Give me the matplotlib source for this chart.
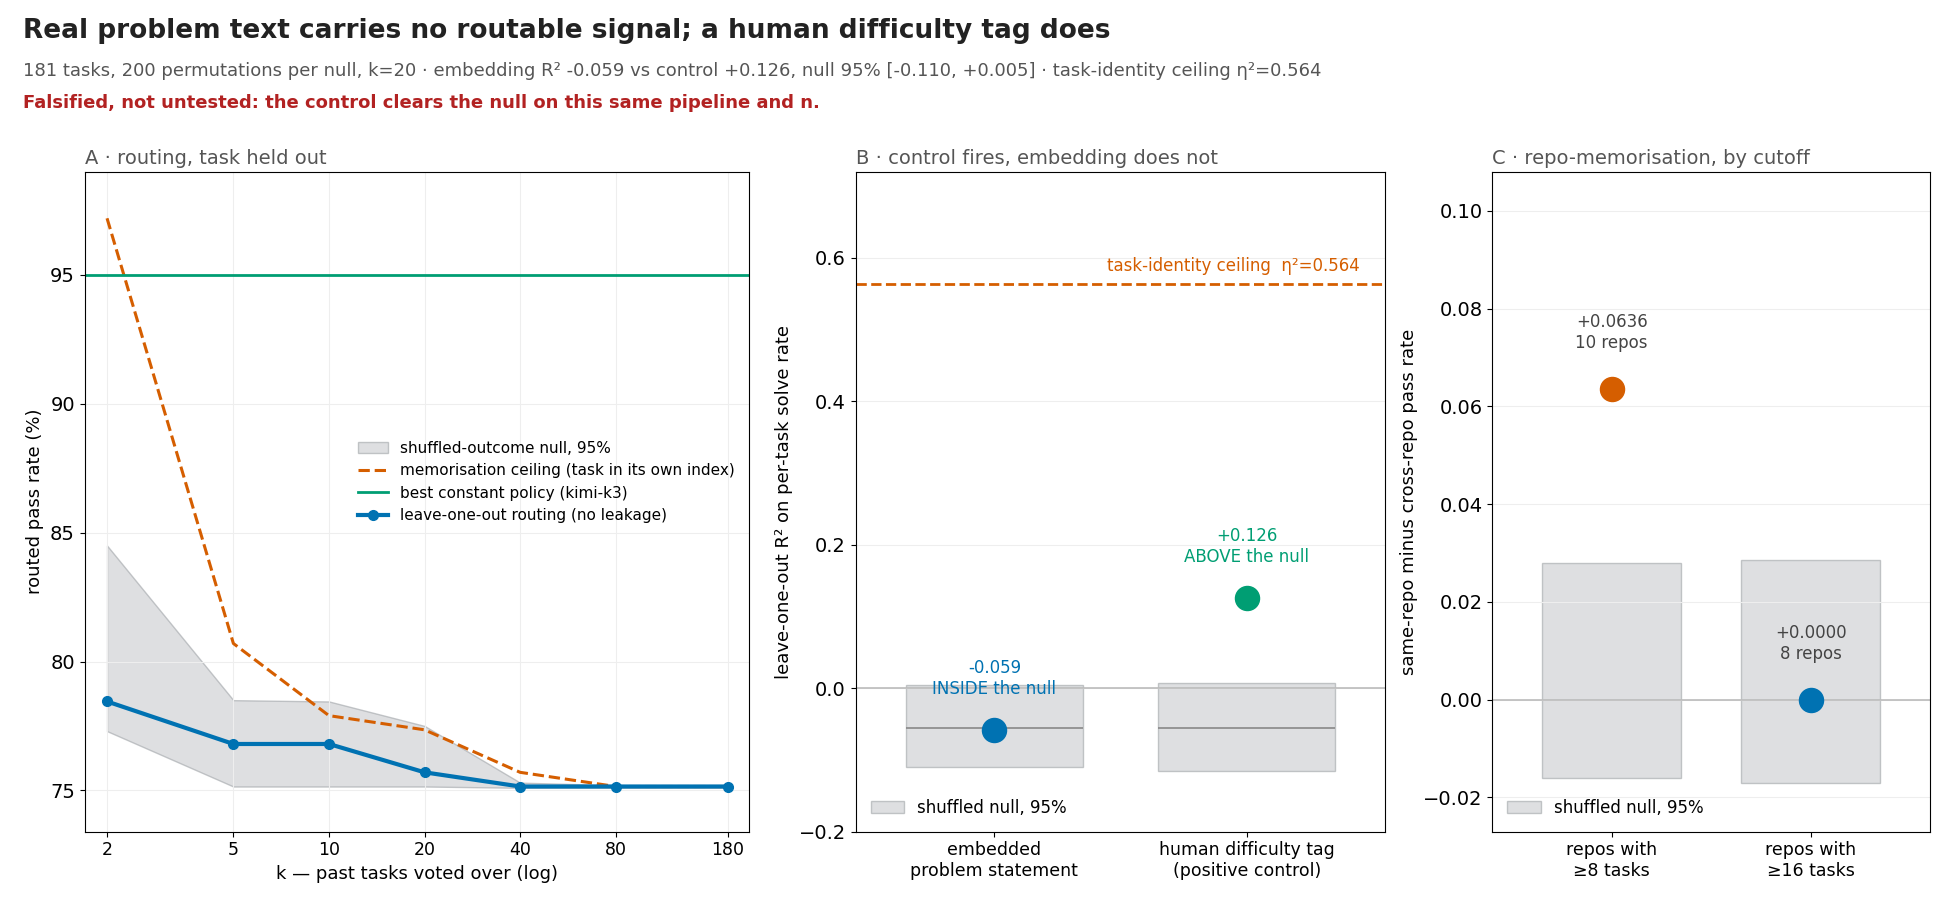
import matplotlib
matplotlib.use("Agg")
import matplotlib.pyplot as plt
import numpy as np

k_vals = [2, 5, 10, 20, 40, 80, 180]
loo = [78.45, 76.8, 76.8, 75.7, 75.15, 75.15, 75.15]
memo = [97.2, 80.7, 77.9, 77.35, 75.7, 75.15, 75.15]
null_hi = [84.5, 78.5, 78.45, 77.5, 75.3, 75.2, 75.2]
null_lo = [77.3, 75.15, 75.15, 75.15, 75.1, 75.1, 75.1]
const_best = 95.0

b_labels = ["embedded\nproblem statement", "human difficulty tag\n(positive control)"]
b_vals = [-0.059, 0.126]
b_null_lo = [-0.110, -0.115]
b_null_hi = [0.005, 0.007]
b_null_med = [-0.055, -0.055]
ceiling = 0.564

c_labels = ["repos with\n≥8 tasks", "repos with\n≥16 tasks"]
c_vals = [0.0636, 0.0]
c_repos = [10, 8]
c_null_lo = [-0.016, -0.017]
c_null_hi = [0.028, 0.0285]

BLUE = "#0072b2"; ORANGE = "#d55e00"; GREEN = "#009e73"; GREY = "#c9cbce"

fig = plt.figure(figsize=(19.5, 9), dpi=100)
fig.text(0.012, 0.965, "Real problem text carries no routable signal; a human difficulty tag does",
         fontsize=19, fontweight="bold", color="#222222", va="center")
fig.text(0.012, 0.921, "181 tasks, 200 permutations per null, k=20 · embedding R² -0.059 vs control +0.126, null 95% [-0.110, +0.005] · task-identity ceiling η²=0.564",
         fontsize=13, color="#555555", va="center")
fig.text(0.012, 0.886, "Falsified, not untested: the control clears the null on this same pipeline and n.",
         fontsize=13, color="#b22222", fontweight="bold", va="center")

TS = 14; LS = 13; TK = 14

# Panel A
ax = fig.add_axes([0.0434, 0.076, 0.3406, 0.733])
ax.fill_between(k_vals, null_lo, null_hi, color=GREY, alpha=0.6, edgecolor="#a0a4a8",
                label="shuffled-outcome null, 95%")
ax.plot(k_vals, memo, "--", color=ORANGE, lw=2.2, label="memorisation ceiling (task in its own index)")
ax.axhline(const_best, color=GREEN, lw=2, label="best constant policy (kimi-k3)")
ax.plot(k_vals, loo, "-o", color=BLUE, lw=3, ms=7, label="leave-one-out routing (no leakage)")
ax.set_xscale("log")
ax.set_xticks(k_vals)
ax.set_xticklabels([str(k) for k in k_vals])
ax.minorticks_off()
ax.set_xlim(1.7, 210)
ax.set_ylim(73.4, 99)
ax.set_yticks([75, 80, 85, 90, 95])
ax.grid(True, color="#eeeeee")
ax.set_xlabel("k — past tasks voted over (log)", fontsize=LS)
ax.set_ylabel("routed pass rate (%)", fontsize=LS)
ax.set_title("A · routing, task held out", loc="left", fontsize=TS, color="#555555")
ax.legend(loc="center right", bbox_to_anchor=(1.0, 0.53), fontsize=11, frameon=False)
ax.tick_params(axis="x", labelsize=12.5)

# Panel B
ax = fig.add_axes([0.4388, 0.076, 0.2717, 0.733])
x = np.arange(len(b_labels))
for i in x:
    ax.bar(i, b_null_hi[i] - b_null_lo[i], bottom=b_null_lo[i], width=0.7, color=GREY, alpha=0.6,
           edgecolor="#a0a4a8", label="shuffled null, 95%" if i == 0 else None)
    ax.hlines(b_null_med[i], i - 0.35, i + 0.35, color="#888888", lw=1.2)
ax.axhline(0, color="#bbbbbb", lw=1.2)
ax.axhline(ceiling, color=ORANGE, ls="--", lw=2)
ax.text(1.45, ceiling + 0.012, f"task-identity ceiling  η²={ceiling:.3f}", color=ORANGE,
        ha="right", va="bottom", fontsize=12)
cols = [BLUE, GREEN]
tags = ["INSIDE the null", "ABOVE the null"]
for i in x:
    ax.scatter(i, b_vals[i], s=300, color=cols[i], zorder=5)
    ax.text(i, b_vals[i] + 0.045, f"{b_vals[i]:+.3f}\n{tags[i]}", color=cols[i], ha="center",
            va="bottom", fontsize=12)
ax.set_xticks(x)
ax.set_xticklabels(b_labels, fontsize=12.5)
ax.set_xlim(-0.55, 1.55)
ax.set_ylim(-0.2, 0.72)
ax.set_yticks([-0.2, 0.0, 0.2, 0.4, 0.6])
ax.grid(True, axis="y", color="#eeeeee")
ax.set_ylabel("leave-one-out R² on per-task solve rate", fontsize=LS)
ax.set_title("B · control fires, embedding does not", loc="left", fontsize=TS, color="#555555")
ax.legend(loc="lower left", fontsize=12, frameon=False)

# Panel C
ax = fig.add_axes([0.7653, 0.076, 0.2245, 0.733])
x = np.arange(len(c_labels))
for i in x:
    ax.bar(i, c_null_hi[i] - c_null_lo[i], bottom=c_null_lo[i], width=0.7, color=GREY, alpha=0.6,
           edgecolor="#a0a4a8", label="shuffled null, 95%" if i == 0 else None)
ax.axhline(0, color="#bbbbbb", lw=1.2)
ccols = [ORANGE, BLUE]
for i in x:
    ax.scatter(i, c_vals[i], s=300, color=ccols[i], zorder=5)
    ax.text(i, c_vals[i] + 0.0075, f"{c_vals[i]:+.4f}\n{c_repos[i]} repos", color="#444444",
            ha="center", va="bottom", fontsize=12)
ax.set_xticks(x)
ax.set_xticklabels(c_labels, fontsize=12.5)
ax.set_xlim(-0.6, 1.6)
ax.set_ylim(-0.027, 0.108)
ax.set_yticks([-0.02, 0.0, 0.02, 0.04, 0.06, 0.08, 0.10])
ax.grid(True, axis="y", color="#eeeeee")
ax.set_ylabel("same-repo minus cross-repo pass rate", fontsize=LS)
ax.set_title("C · repo-memorisation, by cutoff", loc="left", fontsize=TS, color="#555555")
ax.legend(loc="lower left", fontsize=12, frameon=False)

for a in fig.axes:
    a.tick_params(axis="y", labelsize=TK)

fig.savefig("out.png", dpi=100)
